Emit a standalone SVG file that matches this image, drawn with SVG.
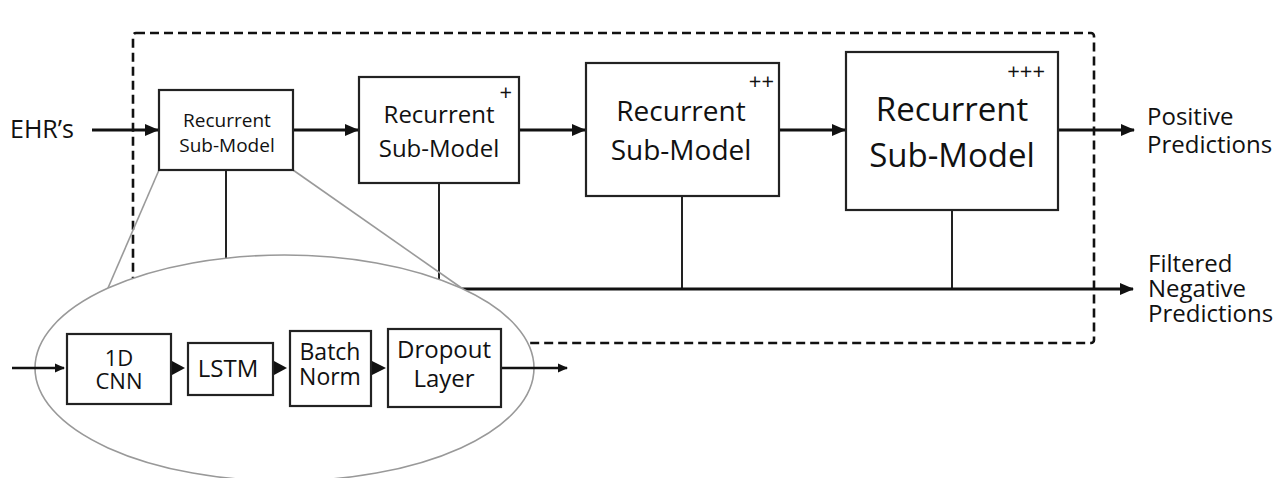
<svg xmlns="http://www.w3.org/2000/svg" width="1281" height="478" viewBox="0 0 1281 478">
<defs>
<style>
text{font-family:"Open Sans","Noto Sans",sans-serif;fill:#111}
.box{fill:#fff;stroke:#222;stroke-width:2.2}
.flow{stroke:#111;stroke-width:3;fill:none}
.thin{stroke:#222;stroke-width:2;fill:none}
.zoom{stroke:#9a9a9a;stroke-width:1.6;fill:none}
.mid{text-anchor:middle}
.end{text-anchor:end}
</style>
<marker id="ah" markerUnits="userSpaceOnUse" markerWidth="14" markerHeight="14" viewBox="0 0 14 14" refX="13" refY="7" orient="auto">
<path d="M0,1 L14,7 L0,13 Z" fill="#111"/>
</marker>
<marker id="ahs" markerUnits="userSpaceOnUse" markerWidth="10" markerHeight="10" viewBox="0 0 10 10" refX="9" refY="5" orient="auto">
<path d="M0,0.5 L10,5 L0,9.5 Z" fill="#111"/>
</marker>
</defs>
<rect width="1281" height="478" fill="#fff"/>

<g id="container">
<rect x="133" y="33" width="961" height="310" rx="3" fill="none" stroke="#111" stroke-width="2.6" stroke-dasharray="9,5"/>
</g>

<g id="connectors">
<line class="flow" x1="92" y1="130" x2="158" y2="130" marker-end="url(#ah)"/>
<line class="flow" x1="293" y1="130" x2="358" y2="130" marker-end="url(#ah)"/>
<line class="flow" x1="519" y1="130" x2="585" y2="130" marker-end="url(#ah)"/>
<line class="flow" x1="779" y1="130" x2="845" y2="130" marker-end="url(#ah)"/>
<line class="flow" x1="1058" y1="130" x2="1134" y2="130" marker-end="url(#ah)"/>
<line class="thin" x1="226" y1="170" x2="226" y2="289"/>
<line class="thin" x1="439" y1="183" x2="439" y2="289"/>
<line class="thin" x1="682" y1="196" x2="682" y2="289"/>
<line class="thin" x1="952" y1="210" x2="952" y2="289"/>
<line class="flow" x1="226" y1="289" x2="1133" y2="289" marker-end="url(#ah)"/>
<line class="zoom" x1="159" y1="170" x2="108" y2="288"/>
<line class="zoom" x1="293" y1="170" x2="463" y2="289"/>
</g>

<g id="zoom-ellipse">
<ellipse cx="284.5" cy="368" rx="249.5" ry="113" fill="#fff" stroke="#999" stroke-width="1.6"/>
</g>

<g id="inner-connectors">
<line x1="12" y1="368" x2="64" y2="368" stroke="#111" stroke-width="2.6" marker-end="url(#ahs)"/>
<path d="M172,361 L185,368 L172,375 Z" fill="#111"/>
<path d="M274,361 L287,368 L274,375 Z" fill="#111"/>
<path d="M372,361 L386,368 L372,375 Z" fill="#111"/>
<line x1="501" y1="368" x2="567" y2="368" stroke="#111" stroke-width="2.6" marker-end="url(#ahs)"/>
</g>

<g id="label-ehr">
<text x="10" y="138" font-size="25">EHR’s</text>
</g>

<g id="submodel-1">
<rect class="box" x="159" y="90" width="134" height="80"/>
<text class="mid" x="227" y="127" font-size="19">Recurrent</text>
<text class="mid" x="227" y="152" font-size="19">Sub-Model</text>
</g>

<g id="submodel-2">
<rect class="box" x="359" y="77" width="160" height="106"/>
<text class="mid" x="439" y="123" font-size="24">Recurrent</text>
<text class="mid" x="439" y="157" font-size="24">Sub-Model</text>
<text class="end" x="512" y="100" font-size="22">+</text>
</g>

<g id="submodel-3">
<rect class="box" x="586" y="63" width="193" height="133"/>
<text class="mid" x="681" y="121" font-size="28">Recurrent</text>
<text class="mid" x="681" y="160" font-size="28">Sub-Model</text>
<text class="end" x="774" y="89" font-size="22">++</text>
</g>

<g id="submodel-4">
<rect class="box" x="846" y="52" width="212" height="158"/>
<text class="mid" x="952" y="121" font-size="33">Recurrent</text>
<text class="mid" x="952" y="167" font-size="33">Sub-Model</text>
<text class="end" x="1045" y="79" font-size="22">+++</text>
</g>

<g id="label-positive">
<text x="1147" y="125" font-size="24">Positive</text>
<text x="1147" y="153" font-size="24">Predictions</text>
</g>

<g id="label-negative">
<text x="1148" y="272" font-size="24">Filtered</text>
<text x="1148" y="297" font-size="24">Negative</text>
<text x="1148" y="322" font-size="24">Predictions</text>
</g>

<g id="cnn">
<rect class="box" x="67" y="334" width="104" height="70"/>
<text class="mid" x="119" y="366" font-size="22">1D</text>
<text class="mid" x="119" y="389" font-size="22">CNN</text>
</g>

<g id="lstm">
<rect class="box" x="188" y="343" width="85" height="52"/>
<text class="mid" x="228" y="377" font-size="24">LSTM</text>
</g>

<g id="batchnorm">
<rect class="box" x="290" y="331" width="81" height="75"/>
<text class="mid" x="330" y="360" font-size="23">Batch</text>
<text class="mid" x="330" y="385" font-size="23">Norm</text>
</g>

<g id="dropout">
<rect class="box" x="388" y="329" width="113" height="78"/>
<text class="mid" x="444" y="358" font-size="24">Dropout</text>
<text class="mid" x="444" y="387" font-size="24">Layer</text>
</g>
</svg>
